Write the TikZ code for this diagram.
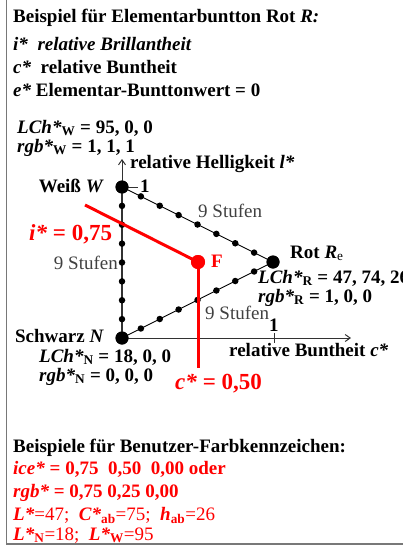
\documentclass[tikz,border=0pt]{standalone}
\usepackage{fontspec}
\setmainfont{Liberation Serif}
\usetikzlibrary{arrows.meta,calc}
\definecolor{stufengray}{RGB}{64,64,64}
\definecolor{axisgray}{RGB}{50,50,50}
\definecolor{framegray}{RGB}{120,120,120}
\begin{document}
\begin{tikzpicture}[x=1pt,y=-1pt,
  txt/.style={anchor=base west,inner sep=0pt,font=\fontsize{19}{21}\selectfont\bfseries},
  txtr/.style={anchor=base east,inner sep=0pt,font=\fontsize{19}{21}\selectfont\bfseries},
  redtxt/.style={txt,text=red},
  bigred/.style={inner sep=0pt,text=red,font=\fontsize{23}{26}\selectfont\bfseries},
  stufen/.style={inner sep=0pt,text=stufengray,font=\fontsize{19}{21}\selectfont},
  bigdot/.style={circle,fill=black,inner sep=0pt,minimum size=13pt},
  smalldot/.style={circle,fill=black,inner sep=0pt,minimum size=6.5pt},
  reddot/.style={circle,fill=red,inner sep=0pt,minimum size=14pt},
  redline/.style={red,line width=3pt},
  thinline/.style={black,line width=0.9pt},
  axisline/.style={axisgray,line width=1pt}
]
\useasboundingbox (0,0) rectangle (403,554);
\draw[framegray,line width=1.5pt] (6.5,-5) rectangle (420,544);

% header
\node[txt] (h1) at (13,22) {Beispiel für Elementarbuntton Rot \textit{R:}};
\node[txt] (h2) at (13,50) {\textit{i*}\ \ \textit{relative Brillantheit}};
\node[txt] (h3) at (13,73) {\textit{c*}\ \ relative Buntheit};
\node[txt] (h4) at (13,96) {\textit{e*} Elementar-Bunttonwert = 0};

% W data
\node[txt] (lw) at (17,133) {\textit{LCh*}\textsubscript{W} = 95, 0, 0};
\node[txt] (rw) at (17,152) {\textit{rgb*}\textsubscript{W} = 1, 1, 1};

% key points
\node[bigdot] (W) at (122,187) {};
\node[bigdot] (N) at (122,338) {};
\node[bigdot] (R) at (273,262) {};
\coordinate (Ytop) at (122,159);
\coordinate (Xend) at (351,338);

% axes
\draw[axisline,line width=1.8pt] (N.center) -- (W.center);
\draw[axisline,-{Straight Barb[length=5pt,width=7pt]}] (W.center) -- (Ytop);
\draw[axisline,-{Straight Barb[length=5pt,width=7pt]}] (N.center) -- (Xend);
\coordinate (tickW) at (138,187);
\draw[axisline] (W.center) -- (tickW);
\coordinate (tickXa) at (274,333);
\coordinate (tickXb) at (274,343);
\draw[axisline] (tickXa) -- (tickXb);

% triangle sides
\draw[thinline] (W.center) -- (R.center);
\draw[thinline] (N.center) -- (R.center);

% steps
\foreach \k in {1,...,7} {
  \node[smalldot] at ($(W.center)!\k/8!(N.center)$) {};
  \node[smalldot] at ($(W.center)!\k/8!(R.center)$) {};
  \node[smalldot] at ($(N.center)!\k/8!(R.center)$) {};
}
\node[bigdot] at (W) {};
\node[bigdot] at (N) {};
\node[bigdot] at (R) {};

% red construction
\node[reddot] (F) at (198,262) {};
\coordinate (Istart) at (85,205);
\coordinate (Cend) at (198,368);
\draw[redline] (Istart) -- (F.center);
\draw[redline] (F.center) -- (Cend);
\node[reddot] at (F) {};

% labels
\node[txt] (lhell) at (130,168) {relative Helligkeit \textit{l*}};
\node[txtr] (weiss) at (104,192) {Weiß \textit{W}};
\node[txt] (one1) at (140,192) {1};
\node[stufen,anchor=base west] (st1) at (198,217) {9 Stufen};
\node[bigred,anchor=base west] (ilab) at (29,240) {\textit{i*} = 0,75};
\node[stufen,anchor=base east] (st2) at (118,269) {9 Stufen};
\node[txt,text=red] (flab) at (211,267) {F};
\node[txt] (rot) at (290,258) {Rot \textit{R}\textsubscript{\mdseries e}};
\node[txt] (lr) at (258,283) {\textit{LCh*}\textsubscript{R} = 47, 74, 26};
\node[txt] (rr) at (258,302) {\textit{rgb*}\textsubscript{R} = 1, 0, 0};
\node[stufen,anchor=base west] (st3) at (205,319) {9 Stufen};
\node[txt] (one2) at (269,331) {1};
\node[txtr] (schw) at (104,342) {Schwarz \textit{N}};
\node[txt] (lbunt) at (229,356) {relative Buntheit \textit{c*}};
\node[txt] (ln) at (39,362) {\textit{LCh*}\textsubscript{N} = 18, 0, 0};
\node[txt] (rn) at (39,381) {\textit{rgb*}\textsubscript{N} = 0, 0, 0};
\node[bigred,anchor=base west] (clab) at (175,389) {\textit{c*} = 0,50};

% bottom
\node[txt] (b1) at (13,452) {Beispiele für Benutzer-Farbkennzeichen:};
\node[redtxt] (b2) at (13,474) {\textit{ice*} = 0,75\ \ 0,50\ \ 0,00 oder};
\node[redtxt] (b3) at (13,497) {\textit{rgb*} = 0,75 0,25 0,00};
\node[redtxt] (b4) at (13,520) {\textit{L*}\mdseries=47;\ \ \bfseries\textit{C*}\textsubscript{ab}\mdseries=75;\ \ \bfseries\textit{h}\textsubscript{ab}\mdseries=26};
\node[redtxt] (b5) at (13,540) {\textit{L*}\textsubscript{N}\mdseries=18;\ \ \bfseries\textit{L*}\textsubscript{W}\mdseries=95};
\end{tikzpicture}
\end{document}
